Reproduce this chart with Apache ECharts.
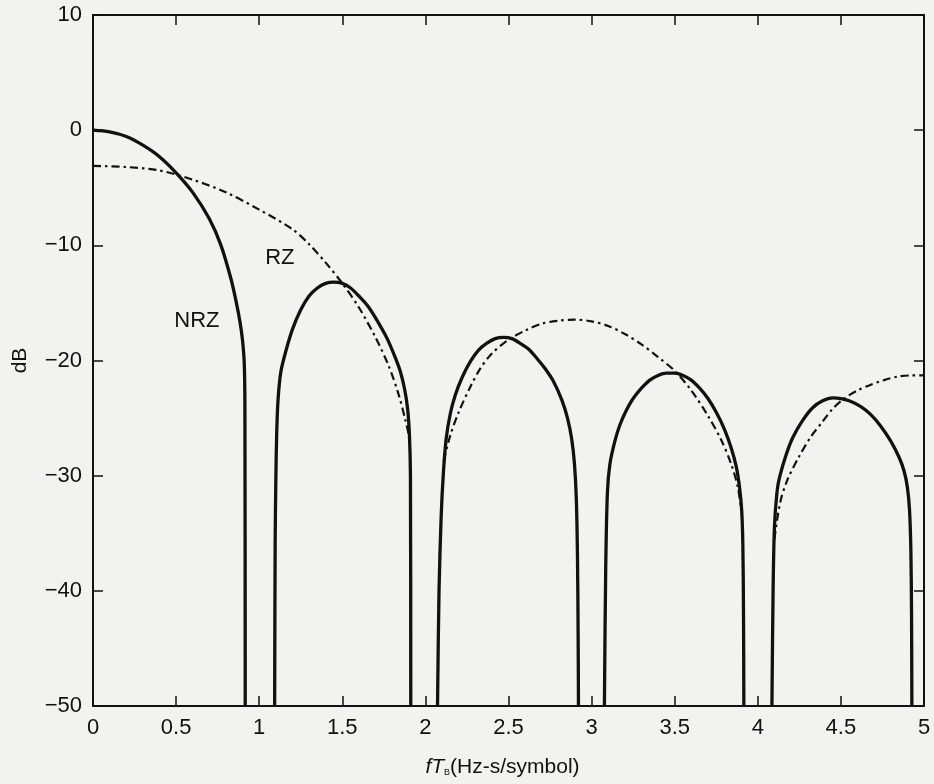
<!DOCTYPE html>
<html>
<head>
<meta charset="utf-8">
<script src="https://cdn.jsdelivr.net/npm/echarts@6/dist/echarts.min.js"></script>
<style>
  html, body { margin: 0; padding: 0; background: #f2f2f0; }
  #chart { width: 934px; height: 784px; }
</style>
</head>
<body>
<div id="chart"></div>
<script>
// NRZ spectrum, one array per lobe: [fTb, dB]
var nrzLobe1 = [[0, 0], [0.1, -0.15], [0.2, -0.55], [0.3, -1.3], [0.4, -2.3], [0.5, -3.7], [0.6, -5.4], [0.7, -7.7],
  [0.77, -10.0], [0.83, -12.9], [0.86, -14.8], [0.885, -16.7], [0.9, -18.3], [0.91, -20.2], [0.914, -24], [0.916, -50]]
var nrzLobe2 = [[1.093, -50], [1.096, -36], [1.1, -30.5], [1.105, -26.5], [1.113, -23.5], [1.13, -21], [1.16, -19.2],
  [1.2, -17.3], [1.25, -15.6], [1.3, -14.4], [1.35, -13.7], [1.4, -13.3], [1.45, -13.2], [1.5, -13.3], [1.55, -13.7],
  [1.6, -14.4], [1.65, -15.2], [1.7, -16.3], [1.77, -18.1], [1.82, -19.8], [1.85, -21], [1.875, -22.5], [1.893, -24.2],
  [1.904, -26.5], [1.91, -30], [1.912, -50]]
var nrzLobe3 = [[2.073, -50], [2.082, -40], [2.095, -33.5], [2.108, -29.8], [2.125, -26.8], [2.15, -24.6], [2.18, -23.0],
  [2.22, -21.5], [2.27, -20.1], [2.32, -19.1], [2.37, -18.5], [2.42, -18.1], [2.47, -18.0], [2.52, -18.1], [2.57, -18.5],
  [2.62, -19.0], [2.67, -19.8], [2.72, -20.7], [2.77, -21.8], [2.82, -23.4], [2.855, -25], [2.88, -26.8], [2.897, -29],
  [2.908, -32], [2.915, -37], [2.919, -44], [2.921, -50]]
var nrzLobe4 = [[3.077, -50], [3.085, -38], [3.095, -31.5], [3.11, -29.0], [3.14, -27.0], [3.17, -25.6], [3.21, -24.3],
  [3.25, -23.3], [3.3, -22.4], [3.35, -21.7], [3.4, -21.3], [3.45, -21.1], [3.5, -21.1], [3.55, -21.3], [3.6, -21.7],
  [3.65, -22.4], [3.7, -23.3], [3.75, -24.5], [3.8, -26.0], [3.84, -27.6], [3.87, -29.2], [3.89, -31], [3.903, -33],
  [3.91, -36], [3.914, -42], [3.916, -50]]
var nrzLobe5 = [[4.085, -50], [4.092, -40], [4.1, -34.5], [4.115, -31.5], [4.13, -30.2], [4.17, -28.2], [4.21, -26.7],
  [4.27, -25.2], [4.33, -24.1], [4.39, -23.5], [4.45, -23.25], [4.5, -23.3], [4.55, -23.5], [4.62, -24.0], [4.68, -24.7],
  [4.74, -25.7], [4.8, -27], [4.85, -28.4], [4.88, -29.6], [4.9, -31], [4.913, -33], [4.921, -36.5], [4.925, -42], [4.927, -50]]

// RZ spectrum (dash-dot), three visible pieces
var rzPart1 = [[0, -3.1], [0.2, -3.2], [0.4, -3.5], [0.6, -4.3], [0.8, -5.4], [1.0, -6.9], [1.2, -8.6], [1.3, -9.9],
  [1.4, -11.5], [1.5, -13.3], [1.6, -15.4], [1.7, -18.0], [1.78, -20.5], [1.84, -23.0], [1.88, -25.2], [1.907, -26.9]]
var rzPart2 = [[2.11, -28.7], [2.15, -26.5], [2.2, -24.5], [2.27, -22.3], [2.33, -20.7], [2.4, -19.4], [2.5, -18.2],
  [2.6, -17.4], [2.7, -16.8], [2.8, -16.55], [2.9, -16.45], [3.0, -16.6], [3.1, -17.0], [3.2, -17.7], [3.3, -18.6],
  [3.4, -19.7], [3.5, -20.9], [3.6, -22.6], [3.7, -24.8], [3.78, -26.9], [3.84, -29.0], [3.88, -31.0], [3.9, -33.0]]
var rzPart3 = [[4.1, -35.5], [4.135, -32.3], [4.18, -30.3], [4.25, -28.3], [4.32, -26.6], [4.39, -25.3], [4.45, -24.2],
  [4.52, -23.3], [4.6, -22.6], [4.68, -22.1], [4.76, -21.7], [4.84, -21.4], [4.92, -21.3], [5.0, -21.3]]

// text labels placed at data positions
var curveLabels = [{ text: 'RZ', at: [1.124, -11.1] }, { text: 'NRZ', at: [0.625, -16.6] }]

var FONT = 'Liberation Sans, Arial, sans-serif'
var INK = '#111'

function join(parts) {
  var out = []
  parts.forEach(function(p, i) {
    if (i > 0) out.push([null, null])
    out = out.concat(p)
  })
  return out
}

var baseAxis = {
  axisLine: { show: true, onZero: false, lineStyle: { color: INK, width: 2 } },
  axisTick: { show: true, inside: true, length: 10, lineStyle: { color: INK, width: 1.5 } },
  splitLine: { show: false }
}

var chart = echarts.init(document.getElementById('chart'))
chart.setOption({
  backgroundColor: '#f2f2f0',
  animation: false,
  grid: { left: 93, right: 10, top: 15, bottom: 75 },
  xAxis: [
    Object.assign({}, baseAxis, {
      type: 'value', min: 0, max: 5, interval: 0.5, position: 'bottom',
      axisLabel: { color: INK, fontSize: 22, fontFamily: FONT, margin: 11 },
      name: '{i|f}{i|T}{s|B}{n|(Hz-s/symbol)}',
      nameLocation: 'middle',
      nameGap: 49,
      nameTextStyle: {
        padding: [0, 12, 0, 0],
        rich: {
          i: { fontStyle: 'italic', fontSize: 21, fontFamily: FONT, color: INK, lineHeight: 24 },
          s: { fontSize: 9, fontFamily: FONT, color: INK, lineHeight: 24, verticalAlign: 'bottom', padding: [0, 0, 2, 0] },
          n: { fontSize: 21, fontFamily: FONT, color: INK, lineHeight: 24 }
        }
      }
    }),
    Object.assign({}, baseAxis, {
      type: 'value', min: 0, max: 5, interval: 0.5, position: 'top',
      axisLabel: { show: false }
    })
  ],
  yAxis: [
    Object.assign({}, baseAxis, {
      type: 'value', min: -50, max: 10, interval: 10, position: 'left',
      axisLabel: {
        color: INK, fontSize: 22, fontFamily: FONT, margin: 11,
        formatter: function(v) { return String(v).replace('-', '\u2212') }
      },
      name: 'dB',
      nameLocation: 'middle',
      nameGap: 62,
      nameTextStyle: { color: INK, fontSize: 21, fontFamily: FONT }
    }),
    Object.assign({}, baseAxis, {
      type: 'value', min: -50, max: 10, interval: 10, position: 'right',
      axisLabel: { show: false }
    })
  ],
  series: [
    {
      name: 'NRZ',
      type: 'line',
      data: join([nrzLobe1, nrzLobe2, nrzLobe3, nrzLobe4, nrzLobe5]),
      showSymbol: false,
      connectNulls: false,
      smooth: 0.3,
      clip: true,
      lineStyle: { color: INK, width: 3.3, join: 'round' }
    },
    {
      name: 'RZ',
      type: 'line',
      data: join([rzPart1, rzPart2, rzPart3]),
      showSymbol: false,
      connectNulls: false,
      smooth: 0.3,
      clip: true,
      lineStyle: { color: INK, width: 2.2, type: [8, 4, 2.5, 4] }
    }
  ]
})

chart.setOption({
  graphic: curveLabels.map(function(l) {
    var p = chart.convertToPixel({ gridIndex: 0 }, l.at)
    return {
      type: 'text', x: p[0], y: p[1],
      style: { text: l.text, fill: INK, font: '22px ' + FONT, align: 'center', verticalAlign: 'middle' }
    }
  })
})
</script>
</body>
</html>
